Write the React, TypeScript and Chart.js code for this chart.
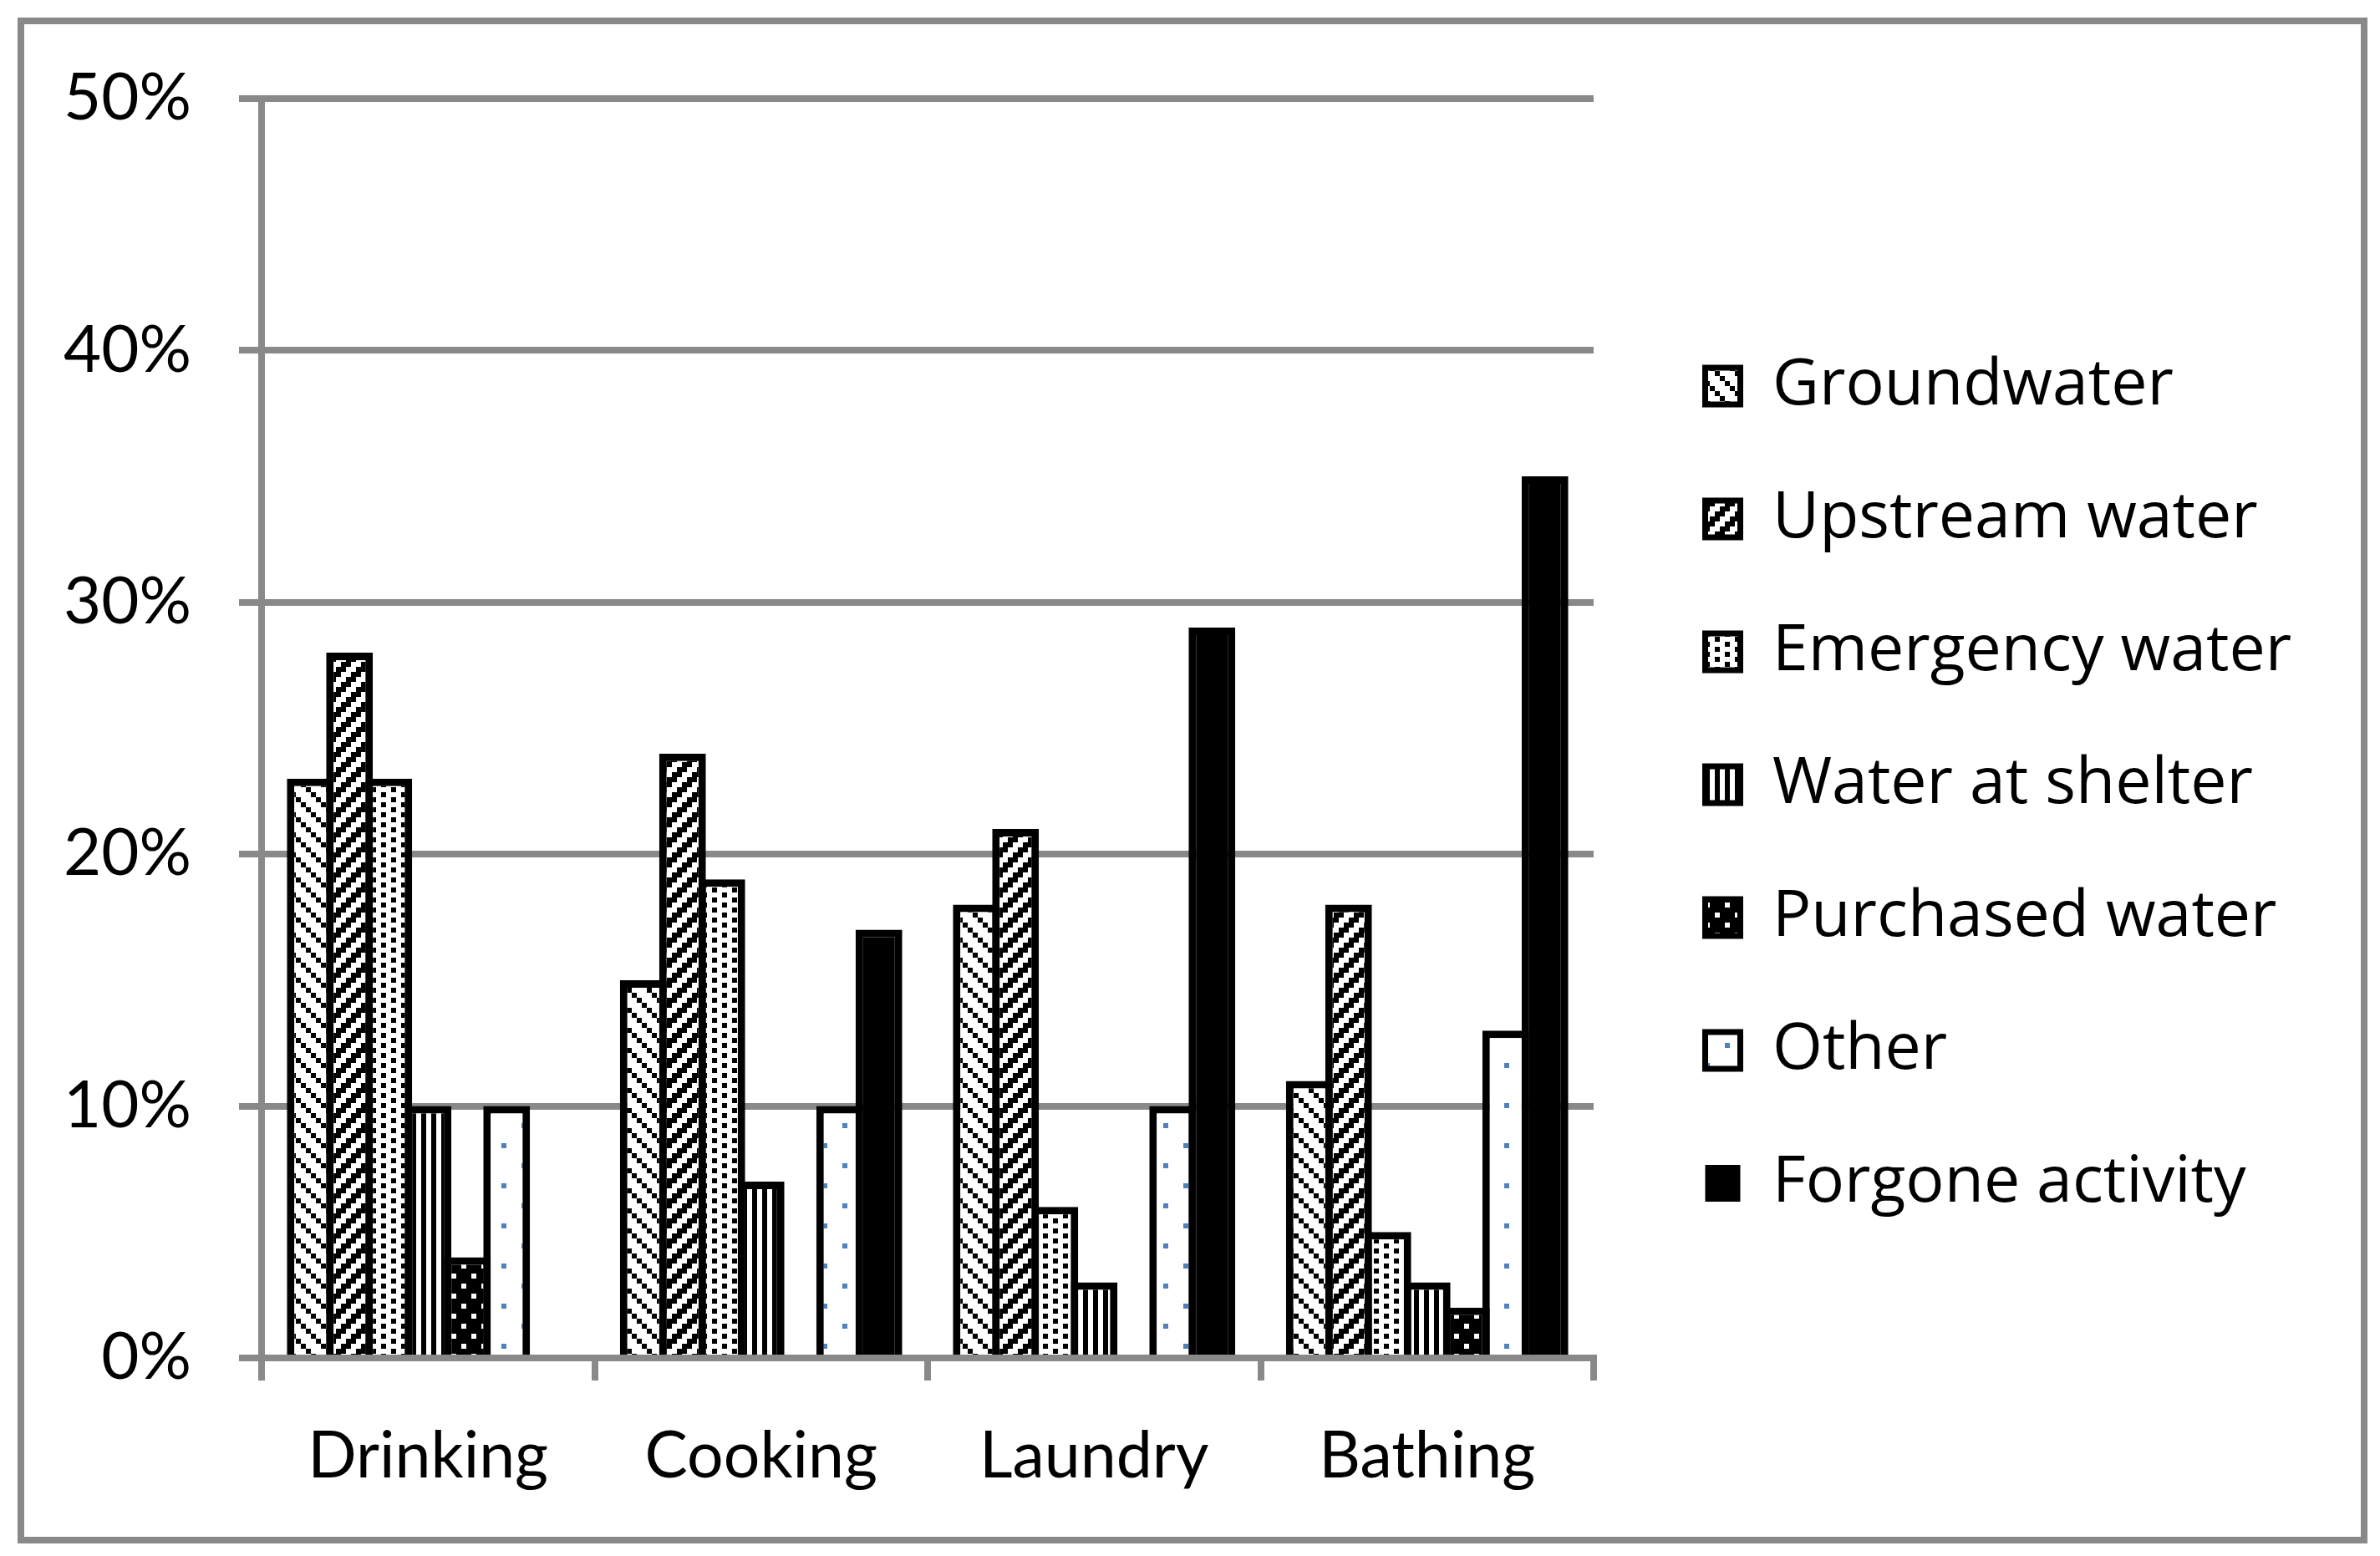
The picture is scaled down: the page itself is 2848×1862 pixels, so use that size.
import React, { useEffect, useRef } from "react";
import { Chart, registerables } from "chart.js";

Chart.register(...registerables);

const categories = ["Drinking", "Cooking", "Laundry", "Bathing"];
const seriesNames = [
  "Groundwater",
  "Upstream water",
  "Emergency water",
  "Water at shelter",
  "Purchased water",
  "Other",
  "Forgone activity",
];
const groundwater = [23, 15, 18, 11];
const upstream = [28, 24, 21, 18];
const emergency = [23, 19, 6, 5];
const shelter = [10, 7, 3, 3];
const purchased = [4, 0, 0, 2];
const other = [10, 10, 10, 13];
const forgone = [0, 17, 29, 35];
const yMin = 0;
const yMax = 50;
const yStep = 10;

const W = 2848;
const H = 1862;
const GRAY = "#898989";
const PAD_W = 51.5;
const LEGEND_W = W - 1907 - PAD_W;

function tile(w: number, h: number, bg: string, fg: string, cells: [number, number, number, number][]) {
  const c = document.createElement("canvas");
  c.width = w;
  c.height = h;
  const g = c.getContext("2d")!;
  g.fillStyle = bg;
  g.fillRect(0, 0, w, h);
  g.fillStyle = fg;
  for (const [x, y, cw, ch] of cells) g.fillRect(x, y, cw, ch);
  return c;
}

function makePatterns(ctx: CanvasRenderingContext2D) {
  const P = 6;
  const gw: [number, number, number, number][] = [];
  for (let i = 0; i < 4; i++) gw.push([i * P, i * P, P, P]);
  const up: [number, number, number, number][] = [];
  for (let x = 0; x < 4; x++)
    for (let y = 0; y < 4; y++) if ((x + y) % 4 === 0 || (x + y) % 4 === 1) up.push([x * P, y * P, P, P]);
  const em: [number, number, number, number][] = [
    [0, 0, P, P],
    [2 * P, P, P, P],
  ];
  const sh: [number, number, number, number][] = [[0, 0, P, 1]];
  const pu: [number, number, number, number][] = [
    [0, 0, P, P],
    [2 * P, 2 * P, P, P],
  ];
  const ot: [number, number, number, number][] = [
    [0, 0, P, P],
    [4 * P, 4 * P, P, P],
  ];
  return [
    ctx.createPattern(tile(4 * P, 4 * P, "#fff", "#000", gw), "repeat")!,
    ctx.createPattern(tile(4 * P, 4 * P, "#fff", "#000", up), "repeat")!,
    ctx.createPattern(tile(4 * P, 2 * P, "#fff", "#000", em), "repeat")!,
    ctx.createPattern(tile(2 * P, 1, "#fff", "#000", sh), "repeat")!,
    ctx.createPattern(tile(4 * P, 4 * P, "#000", "#fff", pu), "repeat")!,
    ctx.createPattern(tile(8 * P, 8 * P, "#fff", "#4F81BD", ot), "repeat")!,
    "#000",
  ];
}

const framePlugin = {
  id: "frame",
  beforeDraw(chart: any) {
    const c = chart.ctx;
    c.save();
    c.strokeStyle = GRAY;
    c.lineWidth = 8;
    c.strokeRect(25, 25, 2804, 1818);
    c.restore();
  },
};

const legendWidthPlugin = {
  id: "legendWidth",
  beforeLayout(chart: any) {
    const lg = chart.legend;
    if (lg && !lg.__fixedWidth) {
      const orig = lg.fit.bind(lg);
      lg.fit = () => {
        orig();
        lg.width = LEGEND_W;
      };
      lg.__fixedWidth = true;
    }
  },
};

export default function App() {
  const ref = useRef<HTMLCanvasElement>(null);

  useEffect(() => {
    document.body.style.margin = "0";
    const canvas = ref.current!;
    const ctx = canvas.getContext("2d")!;
    const fills = makePatterns(ctx);
    const values = [groundwater, upstream, emergency, shelter, purchased, other, forgone];

    const chart = new Chart(ctx, {
      type: "bar",
      data: {
        labels: categories,
        datasets: seriesNames.map((name, i) => ({
          label: name,
          data: values[i],
          backgroundColor: fills[i] as any,
          borderColor: "#000",
          borderWidth: 9,
          borderSkipped: "start",
          categoryPercentage: 0.8256,
          barPercentage: 1.19,
        })),
      },
      plugins: [framePlugin, legendWidthPlugin],
      options: {
        animation: false,
        responsive: false,
        devicePixelRatio: 1,
        layout: { padding: { left: 0, top: 118, right: 0, bottom: 0 } },
        scales: {
          x: {
            z: 1,
            offset: true,
            grid: {
              offset: true,
              drawOnChartArea: false,
              drawTicks: true,
              tickLength: 27,
              lineWidth: 8,
              color: GRAY,
            },
            border: { display: true, color: GRAY, width: 8 },
            ticks: {
              color: "#000",
              padding: 45,
              maxRotation: 0,
              font: { family: "Lato", size: 77 },
            },
            afterFit: (s: any) => {
              s.height = H - 1625;
            },
          },
          y: {
            min: yMin,
            max: yMax,
            grid: { lineWidth: 8, color: GRAY, tickLength: 27, drawTicks: true },
            border: { display: true, color: GRAY, width: 8 },
            ticks: {
              stepSize: yStep,
              color: "#000",
              padding: 57,
              font: { family: "Lato", size: 78 },
              callback: (v: any) => `${v}%`,
            },
            afterFit: (s: any) => {
              s.width = 313;
            },
          },
          pad: {
            type: "linear",
            position: "right",
            display: true,
            grid: { display: false, drawTicks: false },
            border: { display: false },
            ticks: { display: false },
            afterFit: (s: any) => {
              s.width = PAD_W;
            },
          },
        },
        plugins: {
          tooltip: { enabled: false },
          legend: {
            position: "right",
            align: "start",
            title: {
              display: true,
              text: " ",
              font: { size: 10 },
              padding: { top: 211.5, bottom: 0 },
            },
            labels: {
              color: "#000",
              font: { family: "Open Sans", size: 77 },
              boxWidth: 42,
              boxHeight: 44,
              padding: 82,
              generateLabels: (ch: any) => {
                const items = Chart.defaults.plugins.legend.labels.generateLabels(ch);
                return items.map((it: any, i: number) => ({
                  ...it,
                  lineWidth: i === 6 ? 0 : 7,
                  strokeStyle: "#000",
                }));
              },
            },
          },
        },
      } as any,
    });
    return () => chart.destroy();
  }, []);

  return (
    <div style={{ width: W, height: H, background: "#fff" }}>
      <canvas ref={ref} width={W} height={H} style={{ width: W, height: H, display: "block" }} />
    </div>
  );
}
